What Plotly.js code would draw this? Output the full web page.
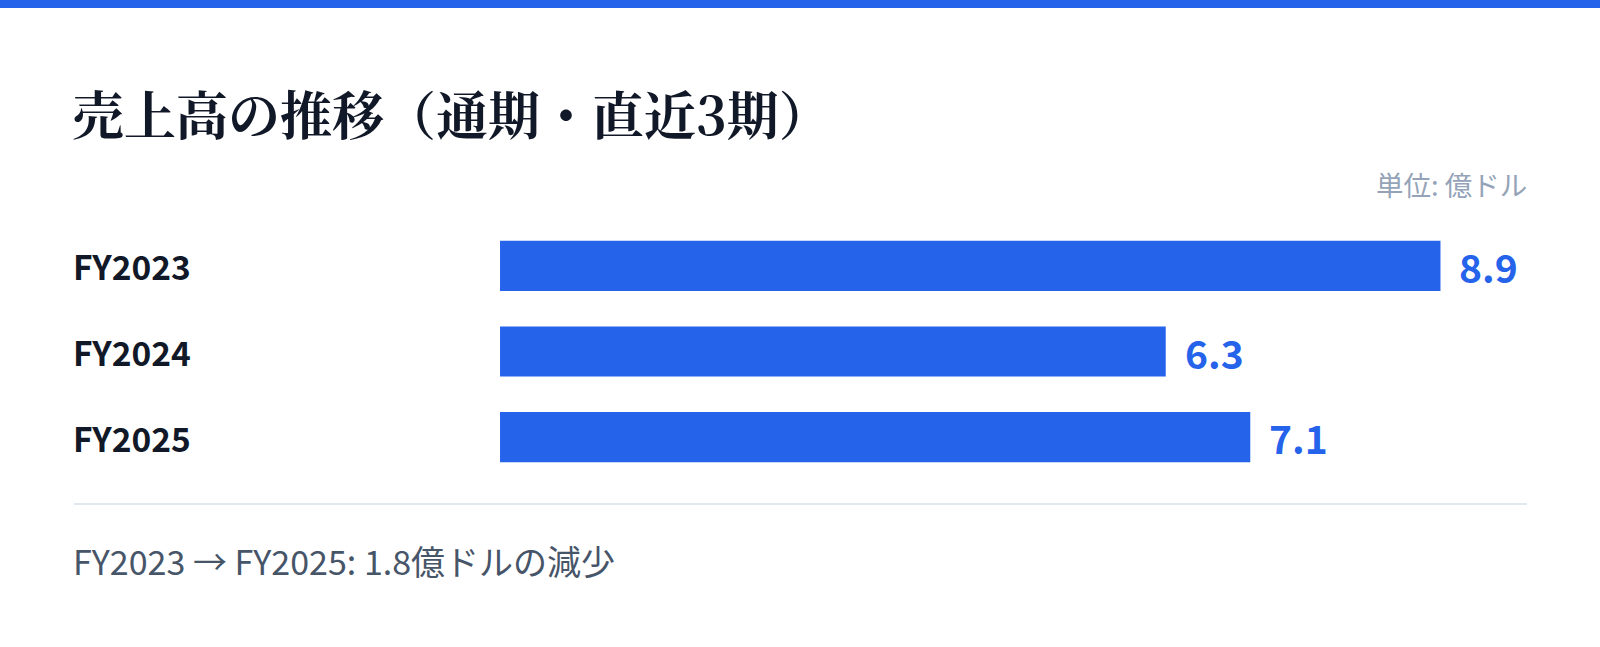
<!DOCTYPE html>
<html>
<head>
<meta charset="utf-8">
<script src="https://cdn.plot.ly/plotly-3.0.1.min.js"></script>
<style>
  html, body { margin: 0; padding: 0; background: #ffffff; }
  #wrap { width: 1600px; height: 639px; border-top: 8px solid #2563eb; }
  #chart { width: 1600px; height: 639px; }
</style>
</head>
<body>
<div id="wrap"><div id="chart"></div></div>
<script>
// 売上高（億ドル）
const periods = ['FY2023', 'FY2024', 'FY2025'];
const sales = [8.9, 6.3, 7.1];
const titleText = '売上高の推移（通期・直近3期）';
const unitText = '単位: 億ドル';

const sans = '"Noto Sans CJK JP", "Noto Sans", sans-serif';
const serif = '"Noto Serif CJK JP", "Noto Serif JP", serif';

const first = sales[0];
const last = sales[sales.length - 1];
const diff = Math.abs(last - first).toFixed(1);
const footer = periods[0] + ' → ' + periods[periods.length - 1] + ': ' + diff +
  '億ドルの' + (last < first ? '減少' : '増加');

const trace = {
  type: 'bar',
  orientation: 'h',
  x: sales,
  y: periods,
  marker: { color: '#2563eb' },
  hoverinfo: 'skip',
  showlegend: false
};

const annotations = [];
periods.forEach((p, i) => {
  annotations.push({
    xref: 'paper', x: 0, xanchor: 'left', xshift: -3,
    yref: 'y', y: p, yanchor: 'middle',
    text: p, showarrow: false,
    font: { family: sans, size: 33.5, color: '#111827', weight: 700 }
  });
  annotations.push({
    xref: 'x', x: sales[i], xanchor: 'left', xshift: 17,
    yref: 'y', y: p, yanchor: 'middle',
    text: sales[i].toFixed(1), showarrow: false,
    font: { family: sans, size: 39, color: '#2563eb', weight: 700 }
  });
});
annotations.push({
  xref: 'paper', x: 1, xanchor: 'right', xshift: 2,
  yref: 'paper', y: 1.152, yanchor: 'middle',
  text: unitText, showarrow: false,
  font: { family: sans, size: 27.5, color: '#94a3b8' }
});
annotations.push({
  xref: 'paper', x: 0, xanchor: 'left', xshift: -3,
  yref: 'paper', y: -0.315, yanchor: 'middle',
  text: footer, showarrow: false,
  font: { family: sans, size: 34, color: '#475569' }
});

const layout = {
  width: 1600,
  height: 639,
  margin: { l: 74, r: 73, t: 215, b: 167 },
  paper_bgcolor: '#ffffff',
  plot_bgcolor: '#ffffff',
  title: {
    text: titleText,
    xref: 'container', x: 72 / 1600, xanchor: 'left',
    yref: 'container', y: 1 - 109 / 639, yanchor: 'middle',
    font: { family: serif, size: 52, color: '#111827', weight: 700 }
  },
  xaxis: {
    domain: [0.2932, 1],
    range: [0, Math.max(...sales) * 1.092],
    visible: false,
    fixedrange: true
  },
  yaxis: {
    type: 'category',
    autorange: 'reversed',
    showticklabels: false,
    showgrid: false,
    zeroline: false,
    showline: false,
    fixedrange: true
  },
  bargap: 0.415,
  shapes: [{
    type: 'line', xref: 'paper', yref: 'paper',
    x0: 0, x1: 1, y0: -0.0934, y1: -0.0934,
    line: { color: '#e2e8f0', width: 2 }
  }],
  annotations: annotations
};

Plotly.newPlot('chart', [trace], layout, { displayModeBar: false, staticPlot: true });
</script>
</body>
</html>
